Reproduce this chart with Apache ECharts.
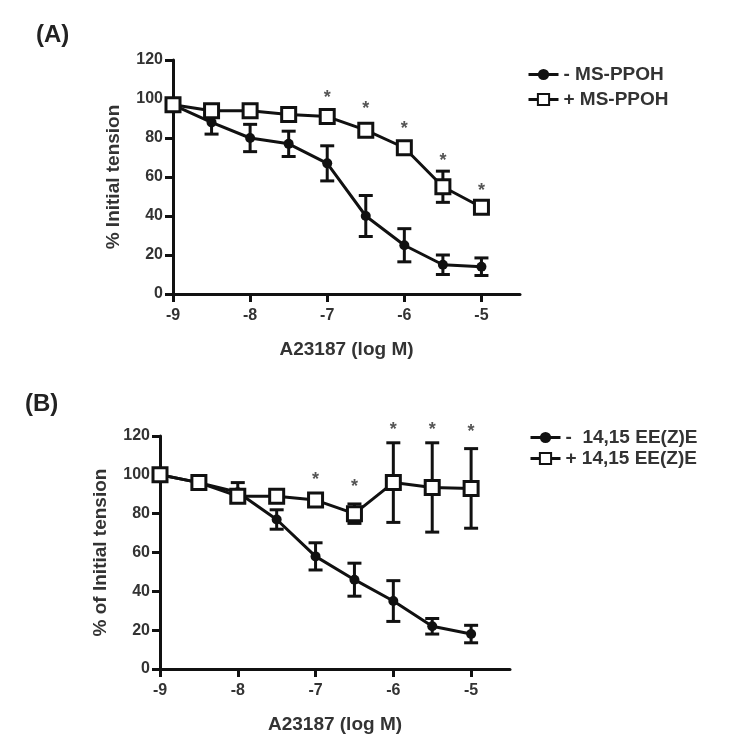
<!DOCTYPE html>
<html>
<head>
<meta charset="utf-8">
<script src="https://cdn.jsdelivr.net/npm/echarts@6/dist/echarts.min.js"></script>
<style>html,body{margin:0;padding:0;background:#fff}#c{width:750px;height:750px}</style>
</head>
<body>
<div id="c"></div>
<script>
// ---- data ----
const doses = [-9, -8.5, -8, -7.5, -7, -6.5, -6, -5.5, -5];
const xTicks = [-9, -8, -7, -6, -5];

const aMinus = [97, 88, 80, 77, 67, 40, 25, 15, 14];
const aMinusErr = [2, 6, 7, 6.5, 9, 10.5, 8.5, 5, 4.5];
const aPlus = [97, 94, 94, 92, 91, 84, 75, 55, 44.5];
const aPlusErr = [2, 2, 2, 2, 2, 2, 3, 8, 3];
const aStarX = [-7, -6.5, -6, -5.5, -5];
const aStarY = [102.5, 97, 86.5, 70, 55];

const bMinus = [100, 96, 91, 77, 58, 46, 35, 22, 18];
const bMinusErr = [1.5, 1.5, 5, 5, 7, 8.5, 10.5, 4, 4.5];
const bPlus = [100, 96, 89, 89, 87, 80, 96, 93.5, 93];
const bPlusErr = [1.5, 1.5, 2, 2, 1.5, 5, 20.5, 23, 20.5];
const bStarX = [-7, -6.5, -6, -5.5, -5];
const bStarY = [99.5, 96, 125, 125, 124];

const namesA = ['- MS-PPOH', '+ MS-PPOH'];
const namesB = ['-  14,15 EE(Z)E', '+ 14,15 EE(Z)E'];
const yTitleA = '% Initial tension';
const yTitleB = '% of Initial tension';
const xTitle = 'A23187 (log M)';

// ---- helpers ----
const FONT = 'Liberation Sans, Arial, sans-serif';
const INK = '#111';
const pairs = (xs, ys) => xs.map((x, i) => [x, ys[i]]);
const triples = (xs, ys, es) => xs.map((x, i) => [x, ys[i], es[i]]);

function errSeries(idx, xs, ys, es) {
  return {
    type: 'custom', xAxisIndex: idx, yAxisIndex: idx, z: 1, silent: true,
    data: triples(xs, ys, es),
    renderItem: function (params, api) {
      const x = api.value(0), y = api.value(1), e = api.value(2);
      const t = api.coord([x, y + e]);
      const b = api.coord([x, y - e]);
      const w = 7;
      const st = { stroke: INK, lineWidth: 3 };
      return { type: 'group', children: [
        { type: 'line', shape: { x1: t[0], y1: t[1], x2: b[0], y2: b[1] }, style: st },
        { type: 'line', shape: { x1: t[0] - w, y1: t[1], x2: t[0] + w, y2: t[1] }, style: st },
        { type: 'line', shape: { x1: b[0] - w, y1: b[1], x2: b[0] + w, y2: b[1] }, style: st }
      ]};
    }
  };
}
function starSeries(idx, xs, ys) {
  return {
    type: 'custom', xAxisIndex: idx, yAxisIndex: idx, z: 3, silent: true, clip: false,
    data: pairs(xs, ys),
    renderItem: function (params, api) {
      const p = api.coord([api.value(0), api.value(1)]);
      return { type: 'text', x: p[0], y: p[1] + 4,
        style: { text: '*', fill: '#555', font: 'bold 18px ' + FONT, align: 'center', verticalAlign: 'middle' } };
    }
  };
}
function lineSeries(idx, name, ys, filled) {
  return {
    type: 'line', name: name, xAxisIndex: idx, yAxisIndex: idx, z: 2,
    data: pairs(doses, ys),
    symbol: filled ? 'circle' : 'rect',
    symbolSize: filled ? 10 : 14,
    lineStyle: { color: INK, width: 3 },
    itemStyle: filled ? { color: INK, borderColor: INK, borderWidth: 0 } : { color: '#fff', borderColor: INK, borderWidth: 3 },
    emphasis: { disabled: true }, animation: false
  };
}
function xAxisDef(idx) {
  return {
    type: 'value', gridIndex: idx, min: -9, max: -4.5,
    name: xTitle, nameLocation: 'middle', nameGap: 46,
    nameTextStyle: { fontFamily: FONT, fontSize: 19, fontWeight: 'bold', color: '#333' },
    axisLine: { lineStyle: { color: INK, width: 3 } },
    axisTick: { show: true, length: 8, lineStyle: { color: INK, width: 3 }, customValues: xTicks },
    axisLabel: { fontFamily: FONT, fontSize: 16, fontWeight: 'bold', color: '#333', margin: 14, customValues: xTicks },
    splitLine: { show: false }
  };
}
function yAxisDef(idx, title) {
  return {
    type: 'value', gridIndex: idx, min: 0, max: 120, interval: 20,
    name: title, nameLocation: 'middle', nameGap: 50, nameRotate: 90,
    nameTextStyle: { fontFamily: FONT, fontSize: 19, fontWeight: 'bold', color: '#333' },
    axisLine: { show: true, lineStyle: { color: INK, width: 3 } },
    axisTick: { show: true, length: 8, lineStyle: { color: INK, width: 3 } },
    axisLabel: { fontFamily: FONT, fontSize: 16, fontWeight: 'bold', color: '#333', margin: 10 },
    splitLine: { show: false }
  };
}
const legendText = { fontFamily: FONT, fontSize: 19, fontWeight: 'bold', color: '#333' };
const legendLine = { color: INK, width: 3 };

const option = {
  backgroundColor: '#fff',
  animation: false,
  title: [
    { text: '(A)', left: 31, top: 18, textStyle: { fontFamily: FONT, fontSize: 24, fontWeight: 'bold', color: '#222' } },
    { text: '(B)', left: 20, top: 387, textStyle: { fontFamily: FONT, fontSize: 24, fontWeight: 'bold', color: '#222' } }
  ],
  grid: [
    { left: 173, right: 230, top: 60, bottom: 456 },
    { left: 160, right: 240, top: 436, bottom: 81 }
  ],
  xAxis: [xAxisDef(0), xAxisDef(1)],
  yAxis: [yAxisDef(0, yTitleA), yAxisDef(1, yTitleB)],
  legend: [
    { data: namesA, orient: 'vertical', left: 522, top: 60, itemWidth: 30, itemHeight: 14, itemGap: 6, textStyle: legendText, lineStyle: legendLine, selectedMode: false },
    { data: namesB, orient: 'vertical', left: 524, top: 423, itemWidth: 30, itemHeight: 14, itemGap: 2, textStyle: legendText, lineStyle: legendLine, selectedMode: false }
  ],
  series: [
    errSeries(0, doses, aMinus, aMinusErr),
    errSeries(0, doses, aPlus, aPlusErr),
    lineSeries(0, namesA[0], aMinus, true),
    lineSeries(0, namesA[1], aPlus, false),
    starSeries(0, aStarX, aStarY),
    errSeries(1, doses, bMinus, bMinusErr),
    errSeries(1, doses, bPlus, bPlusErr),
    lineSeries(1, namesB[0], bMinus, true),
    lineSeries(1, namesB[1], bPlus, false),
    starSeries(1, bStarX, bStarY)
  ]
};
const chart = echarts.init(document.getElementById('c'), null, { renderer: 'canvas' });
chart.setOption(option);
</script>
</body>
</html>
